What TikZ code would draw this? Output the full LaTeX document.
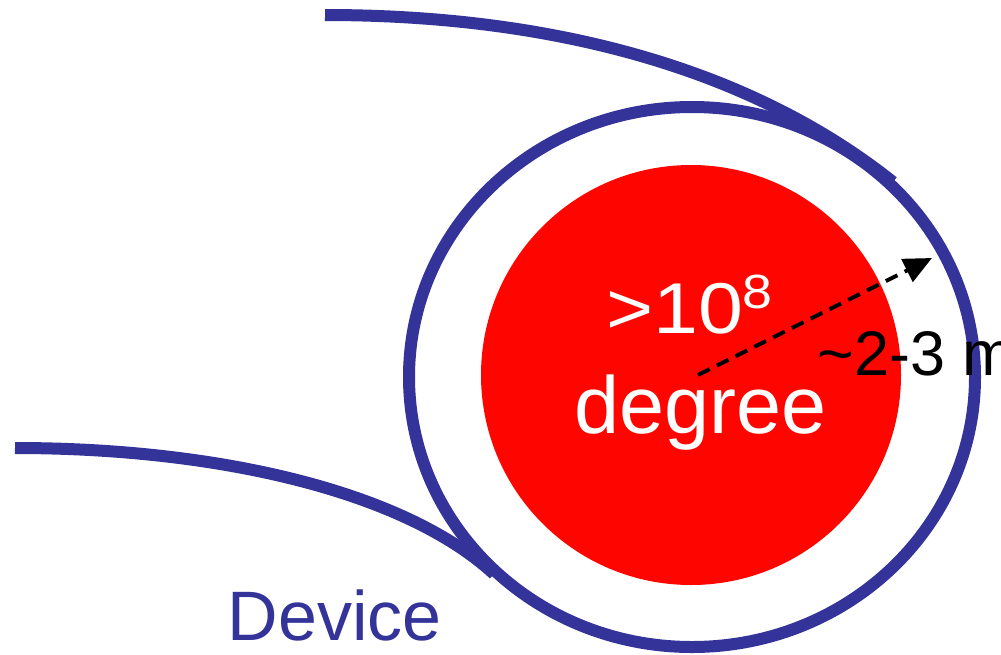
\documentclass[tikz,border=0pt]{standalone}
\usepackage{graphicx}
\usepackage{fontspec}
\setmainfont{Liberation Sans}
\usetikzlibrary{arrows.meta,shapes.geometric}
\definecolor{vesselblue}{RGB}{51,51,153}
\definecolor{plasmared}{RGB}{255,5,0}
\begin{document}
\begin{tikzpicture}[x=1pt,y=-1pt,
  wall/.style={draw=vesselblue,line width=12pt},
  txt/.style={inner sep=0pt,anchor=base west},
  radiusarrow/.style={draw=black,line width=4pt,dash pattern=on 13pt off 8pt,
    -{Triangle[length=28pt,width=25pt]}},
]
\useasboundingbox (0,0) rectangle (1001,654);

% vessel wall and hot plasma core
\node[wall,ellipse,minimum width=566pt,minimum height=540pt,inner sep=0pt] (vessel) at (692,377) {};
\node[circle,fill=plasmared,minimum size=420pt,inner sep=0pt] (core) at (691,375) {};

% the two guide walls running into the vessel
\coordinate (topstart) at (325,15);
\coordinate (topend) at (893,182);
\coordinate (botstart) at (15,448);
\coordinate (botend) at (494,574);
\draw[wall] (topstart) .. controls (560,15) and (755,72) .. (topend);
\draw[wall] (botstart) .. controls (220,448) and (405,492) .. (botend);

% labels
\node[txt,text=white] (temp) at (606,333)
  {\scalebox{1.12}[1]{\fontsize{72}{80}\selectfont >10\raisebox{25pt}{\fontsize{48}{50}\selectfont 8}}};
\node[txt,text=white] (deg) at (574,433) {\fontsize{81}{90}\selectfont degree};
\node[txt] (size) at (817.5,375) {\fontsize{63}{70}\selectfont\textasciitilde2-3 m};
\node[txt,text=vesselblue] (device) at (227.5,640) {\fontsize{70}{80}\selectfont Device};

% radius arrow
\coordinate (rstart) at (698,375);
\coordinate (rtip) at (932,258);
\draw[radiusarrow] (rstart) -- (rtip);
\end{tikzpicture}
\end{document}
